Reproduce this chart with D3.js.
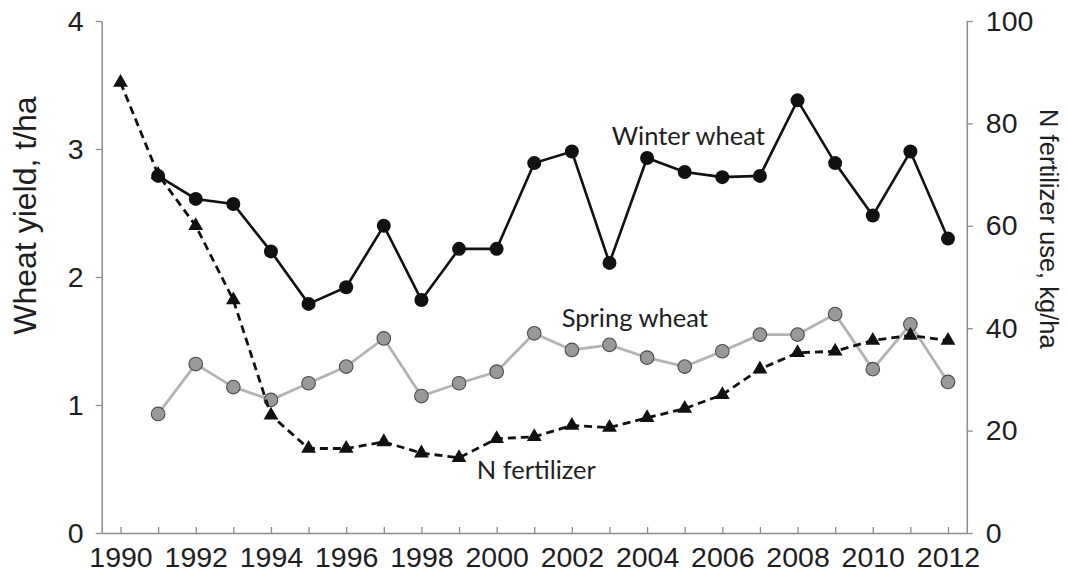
<!DOCTYPE html>
<html>
<head>
<meta charset="utf-8">
<script src="https://cdn.jsdelivr.net/npm/d3@7"></script>
<style>
  html, body { margin: 0; padding: 0; background: #fff; }
  svg { display: block; }
</style>
</head>
<body>
<svg id="chart" width="1067" height="575"></svg>
<script>
// ---- data ----
const fertYears = [1990, 1991, 1992, 1993, 1994, 1995, 1996, 1997, 1998, 1999, 2000, 2001,
                   2002, 2003, 2004, 2005, 2006, 2007, 2008, 2009, 2010, 2011, 2012];
const nFertilizer = [88, 70, 60, 45.5, 23, 16.5, 16.5, 17.8, 15.6, 14.7, 18.4, 18.8,
                     21.0, 20.6, 22.5, 24.3, 27.0, 32.0, 35.2, 35.5, 37.6, 38.6, 37.6];
const wheatYears = [1991, 1992, 1993, 1994, 1995, 1996, 1997, 1998, 1999, 2000, 2001,
                    2002, 2003, 2004, 2005, 2006, 2007, 2008, 2009, 2010, 2011, 2012];
const winterWheat = [2.79, 2.61, 2.57, 2.20, 1.79, 1.92, 2.40, 1.82, 2.22, 2.22, 2.89,
                     2.98, 2.11, 2.93, 2.82, 2.78, 2.79, 3.38, 2.89, 2.48, 2.98, 2.30];
const springWheat = [0.93, 1.32, 1.14, 1.04, 1.17, 1.30, 1.52, 1.07, 1.17, 1.26, 1.56,
                     1.43, 1.47, 1.37, 1.30, 1.42, 1.55, 1.55, 1.71, 1.28, 1.63, 1.18];
const xTickYears = [1990, 1991, 1992, 1993, 1994, 1995, 1996, 1997, 1998, 1999, 2000, 2001,
                    2002, 2003, 2004, 2005, 2006, 2007, 2008, 2009, 2010, 2011, 2012];
const leftTicks = [0, 1, 2, 3, 4];
const rightTicks = [0, 20, 40, 60, 80, 100];

// ---- layout ----
const svg = d3.select("#chart");
const plotLeft = 101.7, plotRight = 966.8, plotTop = 21, plotBottom = 533;
const axisColor = "#8c8c8c";
const textColor = "#1e1e1e";

const x = d3.scaleLinear().domain([1989.5, 2012.5]).range([plotLeft, plotRight]);
const yL = d3.scaleLinear().domain([0, 4]).range([plotBottom, plotTop]);
const yR = d3.scaleLinear().domain([0, 100]).range([plotBottom, plotTop]);

function styleAxis(g) {
  g.attr("font-size", null).attr("font-family", null);
  g.select(".domain").attr("stroke", axisColor).attr("stroke-width", 1.5);
  g.selectAll(".tick line").attr("stroke", axisColor).attr("stroke-width", 1.3);
  g.selectAll(".tick text")
    .attr("fill", textColor)
    .style("font-family", "'Liberation Sans', Arial, sans-serif")
    .style("font-size", "28.5px");
}

// bottom axis
svg.append("g")
  .attr("transform", `translate(0,${plotBottom})`)
  .call(d3.axisBottom(x).tickValues(xTickYears)
        .tickSizeInner(-6).tickSizeOuter(0).tickPadding(14)
        .tickFormat(d => d % 2 === 0 ? String(d) : ""))
  .call(styleAxis);

// left axis
svg.append("g")
  .attr("transform", `translate(${plotLeft},0)`)
  .call(d3.axisLeft(yL).tickValues(leftTicks).tickSizeInner(6).tickSizeOuter(0).tickPadding(12)
        .tickFormat(d3.format("d")))
  .call(styleAxis);

// right axis
svg.append("g")
  .attr("transform", `translate(${plotRight},0)`)
  .call(d3.axisRight(yR).tickValues(rightTicks).tickSizeInner(6).tickSizeOuter(0).tickPadding(13)
        .tickFormat(d3.format("d")))
  .call(styleAxis);

// axis titles
svg.append("text")
  .attr("transform", `translate(36,${(yL(2.48))}) rotate(-90)`)
  .attr("text-anchor", "middle")
  .attr("fill", textColor)
  .style("font-family", "'Liberation Sans', Arial, sans-serif")
  .style("font-size", "32px")
  .text("Wheat yield, t/ha");

svg.append("text")
  .attr("transform", `translate(1040,${yR(59.4)}) rotate(90)`)
  .attr("text-anchor", "middle")
  .attr("fill", textColor)
  .style("font-family", "'Liberation Sans', Arial, sans-serif")
  .style("font-size", "25.5px")
  .text("N fertilizer use, kg/ha");

// ---- series ----
const springData = wheatYears.map((yr, i) => ({ yr, v: springWheat[i] }));
const winterData = wheatYears.map((yr, i) => ({ yr, v: winterWheat[i] }));
const fertData = fertYears.map((yr, i) => ({ yr, v: nFertilizer[i] }));

svg.append("path").datum(springData)
  .attr("fill", "none").attr("stroke", "#b3b3b3").attr("stroke-width", 2.8)
  .attr("d", d3.line().x(d => x(d.yr)).y(d => yL(d.v)));
svg.append("g").selectAll("circle").data(springData).join("circle")
  .attr("cx", d => x(d.yr)).attr("cy", d => yL(d.v)).attr("r", 6.8)
  .attr("fill", "#999999").attr("stroke", "#4a4a4a").attr("stroke-width", 1.1);

svg.append("path").datum(winterData)
  .attr("fill", "none").attr("stroke", "#111").attr("stroke-width", 2.6)
  .attr("d", d3.line().x(d => x(d.yr)).y(d => yL(d.v)));
svg.append("g").selectAll("circle").data(winterData).join("circle")
  .attr("cx", d => x(d.yr)).attr("cy", d => yL(d.v)).attr("r", 7)
  .attr("fill", "#111");

svg.append("path").datum(fertData)
  .attr("fill", "none").attr("stroke", "#111").attr("stroke-width", 2.8)
  .attr("stroke-dasharray", "8,5")
  .attr("d", d3.line().x(d => x(d.yr)).y(d => yR(d.v)));
svg.append("g").selectAll("path").data(fertData).join("path")
  .attr("transform", d => `translate(${x(d.yr)},${yR(d.v)})`)
  .attr("d", d3.symbol().type(d3.symbolTriangle).size(95))
  .attr("fill", "#111");

// ---- series labels ----
const labelFont = "Lato, 'Open Sans', sans-serif";
function label(txt, yr, yv) {
  svg.append("text")
    .attr("x", x(yr)).attr("y", yL(yv))
    .attr("fill", textColor)
    .style("font-family", labelFont)
    .style("font-size", "25.5px")
    .text(txt);
}
label("Winter wheat", 2003.06, 3.03);
label("Spring wheat", 2001.73, 1.61);
label("N fertilizer", 1999.47, 0.42);
</script>
</body>
</html>
